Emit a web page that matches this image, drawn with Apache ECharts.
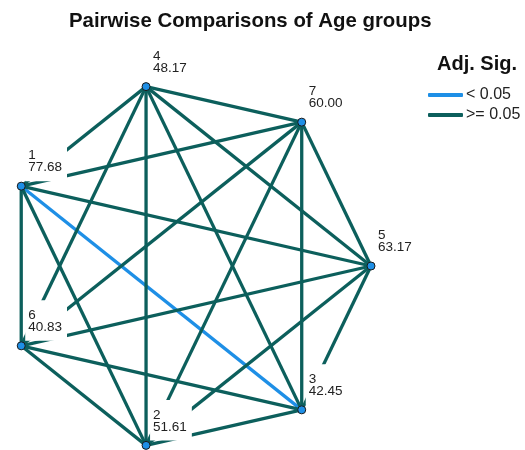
<!DOCTYPE html>
<html>
<head>
<meta charset="utf-8">
<script src="https://cdn.jsdelivr.net/npm/echarts@6/dist/echarts.min.js"></script>
<style>
  html, body { margin: 0; padding: 0; background: #ffffff; }
  #chart { width: 525px; height: 450px; }
</style>
</head>
<body>
<div id="chart"></div>
<script>
// Age groups and the mean rank of each group
const groups = ['1', '2', '3', '4', '5', '6', '7'];
const meanRanks = [77.68, 51.61, 42.45, 48.17, 63.17, 40.83, 60.00];

// Clockwise order of the groups around the ring, starting at 3 o'clock
const ringOrder = ['5', '3', '2', '6', '1', '4', '7'];

// Pairs whose adjusted significance is below 0.05; every other pair is >= 0.05
const significantPairs = [['1', '3']];

// Legend entries
const sigLabels = ['< 0.05', '>= 0.05'];
const sigColors = ['#1e8fe6', '#0c5f5c'];

const FONT = 'Liberation Sans, Arial, sans-serif';
const RING = 1;          // radius value of every group on the ring
const RADIUS_MAX = 1.05; // a little room beyond the ring so line ends are not cut

function isSignificant(a, b) {
  return significantPairs.some(p => (p[0] === a && p[1] === b) || (p[0] === b && p[1] === a));
}

// Slot of a group on the ring (angle axis runs 0 .. number of groups = full turn)
const ringSlot = g => ringOrder.indexOf(g);

// One straight segment per pair of groups, significant pairs drawn first
const edges = [];
for (let i = 0; i < groups.length; i++) {
  for (let j = i + 1; j < groups.length; j++) {
    edges.push({ a: groups[i], b: groups[j], sig: isSignificant(groups[i], groups[j]) });
  }
}
edges.sort((x, y) => (y.sig ? 1 : 0) - (x.sig ? 1 : 0));

const edgeSeries = edges.map(e => {
  const k = e.sig ? 0 : 1;
  return {
    type: 'line',
    name: sigLabels[k],
    coordinateSystem: 'polar',
    data: [[RING, ringSlot(e.a)], [RING, ringSlot(e.b)]],
    symbol: 'none',
    clip: false,
    silent: true,
    z: 2,
    itemStyle: { color: sigColors[k], opacity: 1 },
    lineStyle: { color: sigColors[k], width: 3.3, opacity: 1 }
  };
});

const nodeSeries = {
  type: 'scatter',
  coordinateSystem: 'polar',
  clip: false,
  silent: true,
  z: 10,
  symbol: 'circle',
  symbolSize: 8,
  itemStyle: { color: '#1e8fe6', borderColor: '#1a1a1a', borderWidth: 1, opacity: 1 },
  data: groups.map((g, i) => ({ name: g, value: [RING, ringSlot(g)], rank: meanRanks[i] })),
  label: {
    show: true,
    position: [8.5, -0.5],
    align: 'left',
    verticalAlign: 'bottom',
    formatter: p => p.name + '\n' + p.data.rank.toFixed(2),
    fontFamily: FONT,
    fontSize: 13.5,
    lineHeight: 12,
    color: '#222222',
    opacity: 1,
    backgroundColor: '#ffffff',
    padding: [9, 5, 7.5, 3]
  }
};

const chart = echarts.init(document.getElementById('chart'), null, { renderer: 'canvas' });
chart.setOption({
  animation: false,
  backgroundColor: '#ffffff',
  title: [
    {
      text: 'Pairwise Comparisons of Age groups',
      left: 69, top: 11, padding: 0,
      textStyle: { fontFamily: FONT, fontSize: 20.4, fontWeight: 'bold', color: '#111111' }
    },
    {
      text: 'Adj. Sig.',
      left: 437, top: 54, padding: 0,
      textStyle: { fontFamily: FONT, fontSize: 20, fontWeight: 'bold', color: '#111111' }
    }
  ],
  legend: {
    orient: 'vertical',
    left: 428, top: 87, padding: 0,
    itemGap: 4,
    itemWidth: 35, itemHeight: 4,
    icon: 'roundRect',
    data: sigLabels,
    selectedMode: false,
    textStyle: { fontFamily: FONT, fontSize: 16, color: '#222222', padding: [0, 0, 0, -2] }
  },
  polar: { center: [187, 266], radius: 184 * RADIUS_MAX },
  angleAxis: {
    type: 'value',
    min: 0,
    max: ringOrder.length,
    startAngle: 0,
    clockwise: true,
    show: false
  },
  radiusAxis: { type: 'value', min: 0, max: RADIUS_MAX, show: false },
  series: edgeSeries.concat([nodeSeries])
});
</script>
</body>
</html>
